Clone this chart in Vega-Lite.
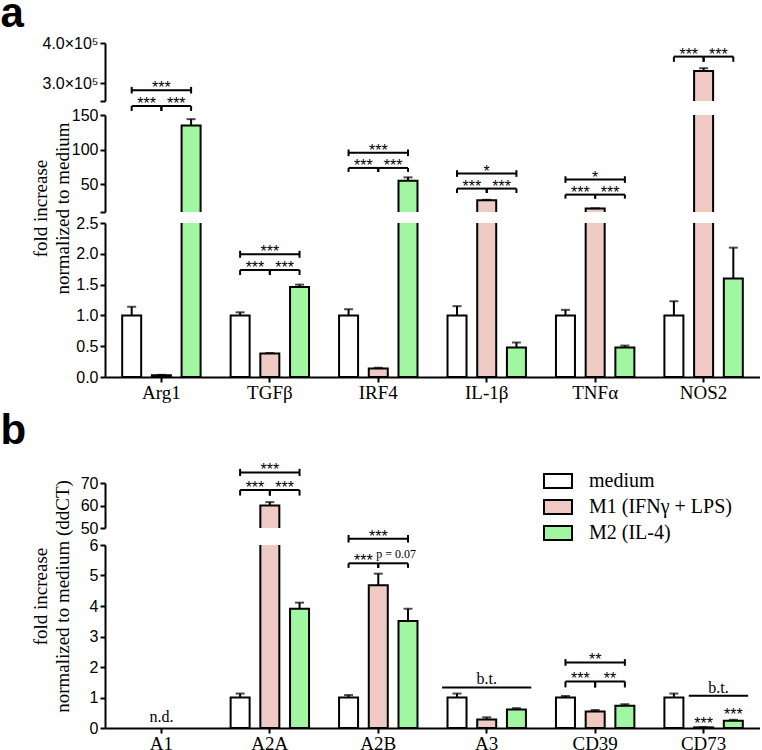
{
  "$schema": "https://vega.github.io/schema/vega-lite/v6.json",
  "padding": {"left": 0, "top": -8, "right": 0, "bottom": 0},
  "background": "white",
  "config": {
    "view": {"stroke": null},
    "axis": {"domainColor": "black", "domainWidth": 2, "tickColor": "black", "tickWidth": 2, "tickSize": 5, "labelColor": "black", "grid": false, "labelFont": "Liberation Sans", "labelFontSize": 16, "labelOverlap": false, "labelFlush": false, "titleFont": "Liberation Serif", "titleFontWeight": "normal", "titleColor": "black", "titleFontSize": 19, "labelPadding": 2},
    "axisY": {"tickCount": 30},
    "legend": {"orient": "none", "legendX": 443, "legendY": 428, "title": null, "symbolType": "M-2,-1H2V1H-2Z", "symbolSize": 196, "symbolStrokeColor": "black", "symbolStrokeWidth": 2, "labelFont": "Liberation Serif", "labelFontSize": 20, "labelColor": "black", "labelOffset": 21, "rowPadding": 4, "padding": 0, "labelLimit": 400}
  },
  "datasets": {
    "barsA": [
      {"g": "Arg1", "s": "medium", "mean": 1.0, "hi": 1.14},
      {"g": "Arg1", "s": "M1", "mean": 0.03, "hi": 0.035},
      {"g": "Arg1", "s": "M2", "mean": 135, "hi": 144},
      {"g": "TGFβ", "s": "medium", "mean": 1.0, "hi": 1.05},
      {"g": "TGFβ", "s": "M1", "mean": 0.38, "hi": 0.39},
      {"g": "TGFβ", "s": "M2", "mean": 1.46, "hi": 1.5},
      {"g": "IRF4", "s": "medium", "mean": 1.0, "hi": 1.1},
      {"g": "IRF4", "s": "M1", "mean": 0.14, "hi": 0.15},
      {"g": "IRF4", "s": "M2", "mean": 55, "hi": 60},
      {"g": "IL-1β", "s": "medium", "mean": 1.0, "hi": 1.15},
      {"g": "IL-1β", "s": "M1", "mean": 27, "hi": 27.6},
      {"g": "IL-1β", "s": "M2", "mean": 0.48, "hi": 0.56},
      {"g": "TNFα", "s": "medium", "mean": 1.0, "hi": 1.09},
      {"g": "TNFα", "s": "M1", "mean": 15, "hi": 15.3},
      {"g": "TNFα", "s": "M2", "mean": 0.48, "hi": 0.51},
      {"g": "NOS2", "s": "medium", "mean": 1.0, "hi": 1.23},
      {"g": "NOS2", "s": "M1", "mean": 330000, "hi": 337000},
      {"g": "NOS2", "s": "M2", "mean": 1.6, "hi": 2.1}
    ],
    "barsB": [
      {"g": "A2A", "s": "medium", "mean": 1.0, "hi": 1.13},
      {"g": "A2A", "s": "M1", "mean": 60, "hi": 61.5},
      {"g": "A2A", "s": "M2", "mean": 3.91, "hi": 4.11},
      {"g": "A2B", "s": "medium", "mean": 1.0, "hi": 1.08},
      {"g": "A2B", "s": "M1", "mean": 4.68, "hi": 5.06},
      {"g": "A2B", "s": "M2", "mean": 3.51, "hi": 3.91},
      {"g": "A3", "s": "medium", "mean": 1.0, "hi": 1.13},
      {"g": "A3", "s": "M1", "mean": 0.28, "hi": 0.35},
      {"g": "A3", "s": "M2", "mean": 0.61, "hi": 0.65},
      {"g": "CD39", "s": "medium", "mean": 1.0, "hi": 1.05},
      {"g": "CD39", "s": "M1", "mean": 0.54, "hi": 0.59},
      {"g": "CD39", "s": "M2", "mean": 0.73, "hi": 0.78},
      {"g": "CD73", "s": "medium", "mean": 1.0, "hi": 1.13},
      {"g": "CD73", "s": "M1", "mean": 0.02, "hi": 0.025},
      {"g": "CD73", "s": "M2", "mean": 0.24, "hi": 0.27}
    ],
    "ann": [
      {"seg": "midA", "id": "ar1", "g": "Arg1", "from": "medium", "to": "M1", "mid": "a", "y": 163, "ylo": 155.8, "yhi": 163, "lab": "***", "k": "star"},
      {"seg": "midA", "id": "ar2", "g": "Arg1", "from": "M1", "to": "M2", "mid": "b", "y": 163, "ylo": 155.8, "yhi": 163, "lab": "***", "k": "star"},
      {"seg": "midA", "id": "ar3", "g": "Arg1", "from": "medium", "to": "M2", "mid": "M1", "y": 185.8, "ylo": 181, "yhi": 190.6, "lab": "***", "k": "star"},
      {"seg": "botA", "id": "tg1", "g": "TGFβ", "from": "medium", "to": "M1", "mid": "a", "y": 1.737, "ylo": 1.656, "yhi": 1.737, "lab": "***", "k": "star"},
      {"seg": "botA", "id": "tg2", "g": "TGFβ", "from": "M1", "to": "M2", "mid": "b", "y": 1.737, "ylo": 1.656, "yhi": 1.737, "lab": "***", "k": "star"},
      {"seg": "botA", "id": "tg3", "g": "TGFβ", "from": "medium", "to": "M2", "mid": "M1", "y": 1.992, "ylo": 1.935, "yhi": 2.049, "lab": "***", "k": "star"},
      {"seg": "midA", "id": "ir1", "g": "IRF4", "from": "medium", "to": "M1", "mid": "a", "y": 73.6, "ylo": 67.8, "yhi": 73.6, "lab": "***", "k": "star"},
      {"seg": "midA", "id": "ir2", "g": "IRF4", "from": "M1", "to": "M2", "mid": "b", "y": 73.6, "ylo": 67.8, "yhi": 73.6, "lab": "***", "k": "star"},
      {"seg": "midA", "id": "ir3", "g": "IRF4", "from": "medium", "to": "M2", "mid": "M1", "y": 95.4, "ylo": 90.6, "yhi": 100.2, "lab": "***", "k": "star"},
      {"seg": "midA", "id": "il1", "g": "IL-1β", "from": "medium", "to": "M1", "mid": "a", "y": 43.8, "ylo": 37.4, "yhi": 43.8, "lab": "***", "k": "star"},
      {"seg": "midA", "id": "il2", "g": "IL-1β", "from": "M1", "to": "M2", "mid": "b", "y": 43.8, "ylo": 37.4, "yhi": 43.8, "lab": "***", "k": "star"},
      {"seg": "midA", "id": "il3", "g": "IL-1β", "from": "medium", "to": "M2", "mid": "M1", "y": 65.5, "ylo": 60.7, "yhi": 70.3, "lab": "*", "k": "star"},
      {"seg": "midA", "id": "tn1", "g": "TNFα", "from": "medium", "to": "M1", "mid": "a", "y": 35.1, "ylo": 29.3, "yhi": 35.1, "lab": "***", "k": "star"},
      {"seg": "midA", "id": "tn2", "g": "TNFα", "from": "M1", "to": "M2", "mid": "b", "y": 35.1, "ylo": 29.3, "yhi": 35.1, "lab": "***", "k": "star"},
      {"seg": "midA", "id": "tn3", "g": "TNFα", "from": "medium", "to": "M2", "mid": "M1", "y": 56.8, "ylo": 52, "yhi": 61.6, "lab": "*", "k": "star"},
      {"seg": "topA", "id": "no1", "g": "NOS2", "from": "medium", "to": "M1", "mid": "a", "y": 366000, "ylo": 353000, "yhi": 366000, "lab": "***", "k": "star"},
      {"seg": "topA", "id": "no2", "g": "NOS2", "from": "M1", "to": "M2", "mid": "b", "y": 366000, "ylo": 353000, "yhi": 366000, "lab": "***", "k": "star"},
      {"seg": "topB", "id": "aa1", "g": "A2A", "from": "medium", "to": "M1", "mid": "a", "y": 66.9, "ylo": 64.4, "yhi": 66.9, "lab": "***", "k": "star"},
      {"seg": "topB", "id": "aa2", "g": "A2A", "from": "M1", "to": "M2", "mid": "b", "y": 66.9, "ylo": 64.4, "yhi": 66.9, "lab": "***", "k": "star"},
      {"seg": "topB", "id": "aa3", "g": "A2A", "from": "medium", "to": "M2", "mid": "M1", "y": 74.7, "ylo": 73.1, "yhi": 76.3, "lab": "***", "k": "star"},
      {"seg": "botB", "id": "ab1", "g": "A2B", "from": "medium", "to": "M1", "mid": "a", "y": 5.4, "ylo": 5.25, "yhi": 5.4, "lab": "***", "k": "star"},
      {"seg": "botB", "id": "ab2", "g": "A2B", "from": "M1", "to": "M2", "mid": "b", "y": 5.4, "ylo": 5.25, "yhi": 5.4, "lab": "p = 0.07", "k": "p"},
      {"seg": "botB", "id": "ab3", "g": "A2B", "from": "medium", "to": "M2", "mid": "M1", "y": 6.206, "ylo": 6.08, "yhi": 6.33, "lab": "***", "k": "star"},
      {"seg": "botB", "id": "a3bt", "g": "A3", "from": "L", "to": "R", "mid": "M1", "y": 1.33, "lab": "b.t.", "k": "bt"},
      {"seg": "botB", "id": "cd1", "g": "CD39", "from": "medium", "to": "M1", "mid": "a", "y": 1.525, "ylo": 1.33, "yhi": 1.525, "lab": "***", "k": "star"},
      {"seg": "botB", "id": "cd2", "g": "CD39", "from": "M1", "to": "M2", "mid": "b", "y": 1.525, "ylo": 1.33, "yhi": 1.525, "lab": "**", "k": "star"},
      {"seg": "botB", "id": "cd3", "g": "CD39", "from": "medium", "to": "M2", "mid": "M1", "y": 2.15, "ylo": 2.04, "yhi": 2.26, "lab": "**", "k": "star"},
      {"seg": "botB", "id": "c7bt", "g": "CD73", "from": "a", "to": "R", "mid": "b", "y": 1.057, "lab": "b.t.", "k": "bt"},
      {"seg": "botB", "id": "c7s1", "g": "CD73", "mid": "M1", "y": 0.065, "lab": "***", "k": "star"},
      {"seg": "botB", "id": "c7s2", "g": "CD73", "mid": "M2", "y": 0.35, "lab": "***", "k": "star"},
      {"seg": "botB", "id": "a1nd", "g": "A1", "mid": "M1", "y": 0.085, "lab": "n.d.", "k": "bt"}
    ]
  },
  "bounds": "flush",
  "spacing": 0,
  "vconcat": [
    {
      "width": 655, "height": 58,
      "layer": [
        {"data": {"name": "barsA"}, "mark": {"type": "bar", "width": 19, "stroke": "black", "strokeWidth": 2, "clip": true},
         "encoding": {
           "x": {"field": "g", "type": "nominal", "sort": null, "scale": {"domain": ["Arg1", "TGFβ", "IRF4", "IL-1β", "TNFα", "NOS2"], "paddingInner": 0, "paddingOuter": 0.02}, "axis": null},
           "xOffset": {"field": "s", "type": "nominal", "scale": {"domain": ["L", "medium", "a", "M1", "b", "M2", "R"], "paddingInner": 0, "paddingOuter": 0.15}},
           "y": {"field": "mean", "type": "quantitative", "scale": {"domain": [255000, 400000], "zero": false, "nice": false}, "axis": {"title": "a", "titleAngle": 0, "titleAlign": "left", "titleBaseline": "alphabetic", "titleX": -105, "titleY": -17, "titleFont": "Liberation Sans", "titleFontWeight": "bold", "titleFontSize": 42, "tickCount": 30, "values": [255000, 300000, 400000], "labelExpr": "datum.value == 300000 ? '3.0×10⁵' : datum.value == 400000 ? '4.0×10⁵' : ''"}},
           "fill": {"field": "s", "type": "nominal", "scale": {"domain": ["medium", "M1", "M2"], "range": ["#ffffff", "#efcac5", "#a1f7a1"]}, "legend": {"labelExpr": "datum.label == 'M1' ? 'M1 (IFNγ + LPS)' : datum.label == 'M2' ? 'M2 (IL-4)' : datum.label"}}
         }},
        {"data": {"name": "barsA"}, "mark": {"type": "rule", "color": "black", "strokeWidth": 2, "clip": true},
         "encoding": {"x": {"field": "g", "type": "nominal", "axis": null}, "xOffset": {"field": "s", "type": "nominal"}, "y": {"field": "mean", "type": "quantitative"}, "y2": {"field": "hi"}}},
        {"data": {"name": "barsA"}, "mark": {"type": "tick", "orient": "horizontal", "color": "black", "thickness": 2, "size": 9, "clip": true},
         "encoding": {"x": {"field": "g", "type": "nominal", "axis": null}, "xOffset": {"field": "s", "type": "nominal"}, "y": {"field": "hi", "type": "quantitative"}}},
        {"data": {"name": "ann"}, "transform": [{"filter": "datum.seg == 'topA' && isValid(datum.from)"}, {"fold": ["from", "to"], "as": ["end", "s"]}],
         "mark": {"type": "line", "color": "black", "strokeWidth": 2, "clip": false},
         "encoding": {"x": {"field": "g", "type": "nominal", "axis": null}, "xOffset": {"field": "s", "type": "nominal"}, "y": {"field": "y", "type": "quantitative"}, "detail": {"field": "id"}}},
        {"data": {"name": "ann"}, "transform": [{"filter": "datum.seg == 'topA' && isValid(datum.ylo)"}, {"fold": ["from", "to"], "as": ["end", "s"]}],
         "mark": {"type": "rule", "color": "black", "strokeWidth": 2, "clip": false},
         "encoding": {"x": {"field": "g", "type": "nominal", "axis": null}, "xOffset": {"field": "s", "type": "nominal"}, "y": {"field": "ylo", "type": "quantitative"}, "y2": {"field": "yhi"}}},
        {"data": {"name": "ann"}, "transform": [{"filter": "datum.seg == 'topA' && datum.k == 'star'"}],
         "mark": {"type": "text", "color": "black", "font": "Liberation Sans", "fontSize": 16, "baseline": "middle", "dy": -2, "clip": false},
         "encoding": {"x": {"field": "g", "type": "nominal", "axis": null}, "xOffset": {"field": "mid", "type": "nominal"}, "y": {"field": "y", "type": "quantitative"}, "text": {"field": "lab"}}}
      ]
    },
    {"width": 655, "height": 14, "data": {"values": [{}]}, "mark": {"type": "rule", "opacity": 0}, "encoding": {}},
    {
      "width": 655, "height": 97,
      "layer": [
        {"data": {"name": "barsA"}, "mark": {"type": "bar", "width": 19, "stroke": "black", "strokeWidth": 2, "clip": true},
         "encoding": {
           "x": {"field": "g", "type": "nominal", "sort": null, "scale": {"domain": ["Arg1", "TGFβ", "IRF4", "IL-1β", "TNFα", "NOS2"], "paddingInner": 0, "paddingOuter": 0.02}, "axis": null},
           "xOffset": {"field": "s", "type": "nominal", "scale": {"domain": ["L", "medium", "a", "M1", "b", "M2", "R"], "paddingInner": 0, "paddingOuter": 0.15}},
           "y": {"field": "mean", "type": "quantitative", "scale": {"domain": [10, 150], "zero": false, "nice": false}, "axis": {"title": null, "tickCount": 30, "format": "d", "values": [10, 50, 100, 150], "labelExpr": "datum.value == 10 ? '' : datum.label"}},
           "fill": {"field": "s", "type": "nominal", "scale": {"domain": ["medium", "M1", "M2"], "range": ["#ffffff", "#efcac5", "#a1f7a1"]}, "legend": {"labelExpr": "datum.label == 'M1' ? 'M1 (IFNγ + LPS)' : datum.label == 'M2' ? 'M2 (IL-4)' : datum.label"}}
         }},
        {"data": {"name": "barsA"}, "mark": {"type": "rule", "color": "black", "strokeWidth": 2, "clip": true},
         "encoding": {"x": {"field": "g", "type": "nominal", "axis": null}, "xOffset": {"field": "s", "type": "nominal"}, "y": {"field": "mean", "type": "quantitative"}, "y2": {"field": "hi"}}},
        {"data": {"name": "barsA"}, "mark": {"type": "tick", "orient": "horizontal", "color": "black", "thickness": 2, "size": 9, "clip": true},
         "encoding": {"x": {"field": "g", "type": "nominal", "axis": null}, "xOffset": {"field": "s", "type": "nominal"}, "y": {"field": "hi", "type": "quantitative"}}},
        {"data": {"name": "ann"}, "transform": [{"filter": "datum.seg == 'midA' && isValid(datum.from)"}, {"fold": ["from", "to"], "as": ["end", "s"]}],
         "mark": {"type": "line", "color": "black", "strokeWidth": 2, "clip": false},
         "encoding": {"x": {"field": "g", "type": "nominal", "axis": null}, "xOffset": {"field": "s", "type": "nominal"}, "y": {"field": "y", "type": "quantitative"}, "detail": {"field": "id"}}},
        {"data": {"name": "ann"}, "transform": [{"filter": "datum.seg == 'midA' && isValid(datum.ylo)"}, {"fold": ["from", "to"], "as": ["end", "s"]}],
         "mark": {"type": "rule", "color": "black", "strokeWidth": 2, "clip": false},
         "encoding": {"x": {"field": "g", "type": "nominal", "axis": null}, "xOffset": {"field": "s", "type": "nominal"}, "y": {"field": "ylo", "type": "quantitative"}, "y2": {"field": "yhi"}}},
        {"data": {"name": "ann"}, "transform": [{"filter": "datum.seg == 'midA' && datum.k == 'star'"}],
         "mark": {"type": "text", "color": "black", "font": "Liberation Sans", "fontSize": 16, "baseline": "middle", "dy": -2, "clip": false},
         "encoding": {"x": {"field": "g", "type": "nominal", "axis": null}, "xOffset": {"field": "mid", "type": "nominal"}, "y": {"field": "y", "type": "quantitative"}, "text": {"field": "lab"}}}
      ]
    },
    {"width": 655, "height": 11, "data": {"values": [{}]}, "mark": {"type": "rule", "opacity": 0}, "encoding": {}},
    {
      "width": 655, "height": 154,
      "layer": [
        {"data": {"name": "barsA"}, "mark": {"type": "bar", "width": 19, "stroke": "black", "strokeWidth": 2, "clip": true},
         "encoding": {
           "x": {"field": "g", "type": "nominal", "sort": null, "scale": {"domain": ["Arg1", "TGFβ", "IRF4", "IL-1β", "TNFα", "NOS2"], "paddingInner": 0, "paddingOuter": 0.02}, "axis": {"title": null, "labelFont": "Liberation Serif", "labelFontSize": 19, "labelPadding": 1, "labelAngle": 0}},
           "xOffset": {"field": "s", "type": "nominal", "scale": {"domain": ["L", "medium", "a", "M1", "b", "M2", "R"], "paddingInner": 0, "paddingOuter": 0.15}},
           "y": {"field": "mean", "type": "quantitative", "scale": {"domain": [0, 2.5], "zero": false, "nice": false}, "axis": {"title": ["fold increase", "normalized to medium"], "titleY": -15, "titleX": -55, "titleLineHeight": 22, "tickCount": 30, "values": [0, 0.5, 1, 1.5, 2, 2.5], "format": ".1f"}},
           "fill": {"field": "s", "type": "nominal", "scale": {"domain": ["medium", "M1", "M2"], "range": ["#ffffff", "#efcac5", "#a1f7a1"]}, "legend": {"labelExpr": "datum.label == 'M1' ? 'M1 (IFNγ + LPS)' : datum.label == 'M2' ? 'M2 (IL-4)' : datum.label"}}
         }},
        {"data": {"name": "barsA"}, "mark": {"type": "rule", "color": "black", "strokeWidth": 2, "clip": true},
         "encoding": {"x": {"field": "g", "type": "nominal"}, "xOffset": {"field": "s", "type": "nominal"}, "y": {"field": "mean", "type": "quantitative"}, "y2": {"field": "hi"}}},
        {"data": {"name": "barsA"}, "mark": {"type": "tick", "orient": "horizontal", "color": "black", "thickness": 2, "size": 9, "clip": true},
         "encoding": {"x": {"field": "g", "type": "nominal"}, "xOffset": {"field": "s", "type": "nominal"}, "y": {"field": "hi", "type": "quantitative"}}},
        {"data": {"name": "ann"}, "transform": [{"filter": "datum.seg == 'botA' && isValid(datum.from)"}, {"fold": ["from", "to"], "as": ["end", "s"]}],
         "mark": {"type": "line", "color": "black", "strokeWidth": 2, "clip": false},
         "encoding": {"x": {"field": "g", "type": "nominal"}, "xOffset": {"field": "s", "type": "nominal"}, "y": {"field": "y", "type": "quantitative"}, "detail": {"field": "id"}}},
        {"data": {"name": "ann"}, "transform": [{"filter": "datum.seg == 'botA' && isValid(datum.ylo)"}, {"fold": ["from", "to"], "as": ["end", "s"]}],
         "mark": {"type": "rule", "color": "black", "strokeWidth": 2, "clip": false},
         "encoding": {"x": {"field": "g", "type": "nominal"}, "xOffset": {"field": "s", "type": "nominal"}, "y": {"field": "ylo", "type": "quantitative"}, "y2": {"field": "yhi"}}},
        {"data": {"name": "ann"}, "transform": [{"filter": "datum.seg == 'botA' && datum.k == 'star'"}],
         "mark": {"type": "text", "color": "black", "font": "Liberation Sans", "fontSize": 16, "baseline": "middle", "dy": -2, "clip": false},
         "encoding": {"x": {"field": "g", "type": "nominal"}, "xOffset": {"field": "mid", "type": "nominal"}, "y": {"field": "y", "type": "quantitative"}, "text": {"field": "lab"}}}
      ]
    },
    {"width": 655, "height": 106, "data": {"values": [{}]}, "mark": {"type": "rule", "opacity": 0}, "encoding": {}},
    {
      "width": 655, "height": 45,
      "layer": [
        {"data": {"name": "barsB"}, "mark": {"type": "bar", "width": 19, "stroke": "black", "strokeWidth": 2, "clip": true},
         "encoding": {
           "x": {"field": "g", "type": "nominal", "sort": null, "scale": {"domain": ["A1", "A2A", "A2B", "A3", "CD39", "CD73"], "paddingInner": 0, "paddingOuter": 0.02}, "axis": null},
           "xOffset": {"field": "s", "type": "nominal", "scale": {"domain": ["L", "medium", "a", "M1", "b", "M2", "R"], "paddingInner": 0, "paddingOuter": 0.15}},
           "y": {"field": "mean", "type": "quantitative", "scale": {"domain": [50, 70], "zero": false, "nice": false}, "axis": {"title": "b", "titleAngle": 0, "titleAlign": "left", "titleBaseline": "alphabetic", "titleX": -105, "titleY": -40, "titleFont": "Liberation Sans", "titleFontWeight": "bold", "titleFontSize": 42, "tickCount": 30, "format": "d", "values": [50, 60, 70]}},
           "fill": {"field": "s", "type": "nominal", "scale": {"domain": ["medium", "M1", "M2"], "range": ["#ffffff", "#efcac5", "#a1f7a1"]}, "legend": {"labelExpr": "datum.label == 'M1' ? 'M1 (IFNγ + LPS)' : datum.label == 'M2' ? 'M2 (IL-4)' : datum.label"}}
         }},
        {"data": {"name": "barsB"}, "mark": {"type": "rule", "color": "black", "strokeWidth": 2, "clip": true},
         "encoding": {"x": {"field": "g", "type": "nominal", "axis": null}, "xOffset": {"field": "s", "type": "nominal"}, "y": {"field": "mean", "type": "quantitative"}, "y2": {"field": "hi"}}},
        {"data": {"name": "barsB"}, "mark": {"type": "tick", "orient": "horizontal", "color": "black", "thickness": 2, "size": 9, "clip": true},
         "encoding": {"x": {"field": "g", "type": "nominal", "axis": null}, "xOffset": {"field": "s", "type": "nominal"}, "y": {"field": "hi", "type": "quantitative"}}},
        {"data": {"name": "ann"}, "transform": [{"filter": "datum.seg == 'topB' && isValid(datum.from)"}, {"fold": ["from", "to"], "as": ["end", "s"]}],
         "mark": {"type": "line", "color": "black", "strokeWidth": 2, "clip": false},
         "encoding": {"x": {"field": "g", "type": "nominal", "axis": null}, "xOffset": {"field": "s", "type": "nominal"}, "y": {"field": "y", "type": "quantitative"}, "detail": {"field": "id"}}},
        {"data": {"name": "ann"}, "transform": [{"filter": "datum.seg == 'topB' && isValid(datum.ylo)"}, {"fold": ["from", "to"], "as": ["end", "s"]}],
         "mark": {"type": "rule", "color": "black", "strokeWidth": 2, "clip": false},
         "encoding": {"x": {"field": "g", "type": "nominal", "axis": null}, "xOffset": {"field": "s", "type": "nominal"}, "y": {"field": "ylo", "type": "quantitative"}, "y2": {"field": "yhi"}}},
        {"data": {"name": "ann"}, "transform": [{"filter": "datum.seg == 'topB' && datum.k == 'star'"}],
         "mark": {"type": "text", "color": "black", "font": "Liberation Sans", "fontSize": 16, "baseline": "middle", "dy": -2, "clip": false},
         "encoding": {"x": {"field": "g", "type": "nominal", "axis": null}, "xOffset": {"field": "mid", "type": "nominal"}, "y": {"field": "y", "type": "quantitative"}, "text": {"field": "lab"}}}
      ]
    },
    {"width": 655, "height": 17, "data": {"values": [{}]}, "mark": {"type": "rule", "opacity": 0}, "encoding": {}},
    {
      "width": 655, "height": 183,
      "layer": [
        {"data": {"name": "barsB"}, "mark": {"type": "bar", "width": 19, "stroke": "black", "strokeWidth": 2, "clip": true},
         "encoding": {
           "x": {"field": "g", "type": "nominal", "sort": null, "scale": {"domain": ["A1", "A2A", "A2B", "A3", "CD39", "CD73"], "paddingInner": 0, "paddingOuter": 0.02}, "axis": {"title": null, "labelFont": "Liberation Serif", "labelFontSize": 19, "labelPadding": 1, "labelAngle": 0}},
           "xOffset": {"field": "s", "type": "nominal", "scale": {"domain": ["L", "medium", "a", "M1", "b", "M2", "R"], "paddingInner": 0, "paddingOuter": 0.15}},
           "y": {"field": "mean", "type": "quantitative", "scale": {"domain": [0, 6], "zero": false, "nice": false}, "axis": {"title": ["fold increase", "normalized to medium (ddCT)"], "titleY": 51, "titleX": -55, "titleLineHeight": 22, "tickCount": 30, "format": "d", "values": [0, 1, 2, 3, 4, 5, 6]}},
           "fill": {"field": "s", "type": "nominal", "scale": {"domain": ["medium", "M1", "M2"], "range": ["#ffffff", "#efcac5", "#a1f7a1"]}, "legend": {"labelExpr": "datum.label == 'M1' ? 'M1 (IFNγ + LPS)' : datum.label == 'M2' ? 'M2 (IL-4)' : datum.label"}}
         }},
        {"data": {"name": "barsB"}, "mark": {"type": "rule", "color": "black", "strokeWidth": 2, "clip": true},
         "encoding": {"x": {"field": "g", "type": "nominal"}, "xOffset": {"field": "s", "type": "nominal"}, "y": {"field": "mean", "type": "quantitative"}, "y2": {"field": "hi"}}},
        {"data": {"name": "barsB"}, "mark": {"type": "tick", "orient": "horizontal", "color": "black", "thickness": 2, "size": 9, "clip": true},
         "encoding": {"x": {"field": "g", "type": "nominal"}, "xOffset": {"field": "s", "type": "nominal"}, "y": {"field": "hi", "type": "quantitative"}}},
        {"data": {"name": "ann"}, "transform": [{"filter": "datum.seg == 'botB' && isValid(datum.from)"}, {"fold": ["from", "to"], "as": ["end", "s"]}],
         "mark": {"type": "line", "color": "black", "strokeWidth": 2, "clip": false},
         "encoding": {"x": {"field": "g", "type": "nominal"}, "xOffset": {"field": "s", "type": "nominal"}, "y": {"field": "y", "type": "quantitative"}, "detail": {"field": "id"}}},
        {"data": {"name": "ann"}, "transform": [{"filter": "datum.seg == 'botB' && isValid(datum.ylo)"}, {"fold": ["from", "to"], "as": ["end", "s"]}],
         "mark": {"type": "rule", "color": "black", "strokeWidth": 2, "clip": false},
         "encoding": {"x": {"field": "g", "type": "nominal"}, "xOffset": {"field": "s", "type": "nominal"}, "y": {"field": "ylo", "type": "quantitative"}, "y2": {"field": "yhi"}}},
        {"data": {"name": "ann"}, "transform": [{"filter": "datum.seg == 'botB' && datum.k == 'star'"}],
         "mark": {"type": "text", "color": "black", "font": "Liberation Sans", "fontSize": 16, "baseline": "middle", "dy": -2, "clip": false},
         "encoding": {"x": {"field": "g", "type": "nominal"}, "xOffset": {"field": "mid", "type": "nominal"}, "y": {"field": "y", "type": "quantitative"}, "text": {"field": "lab"}}},
        {"data": {"name": "ann"}, "transform": [{"filter": "datum.seg == 'botB' && datum.k == 'bt'"}],
         "mark": {"type": "text", "color": "black", "font": "Liberation Serif", "fontSize": 16, "baseline": "alphabetic", "dy": -3, "clip": false},
         "encoding": {"x": {"field": "g", "type": "nominal"}, "xOffset": {"field": "mid", "type": "nominal"}, "y": {"field": "y", "type": "quantitative"}, "text": {"field": "lab"}}},
        {"data": {"name": "ann"}, "transform": [{"filter": "datum.seg == 'botB' && datum.k == 'p'"}],
         "mark": {"type": "text", "color": "black", "font": "Liberation Serif", "fontSize": 12, "baseline": "alphabetic", "dy": -5, "dx": 3, "clip": false},
         "encoding": {"x": {"field": "g", "type": "nominal"}, "xOffset": {"field": "mid", "type": "nominal"}, "y": {"field": "y", "type": "quantitative"}, "text": {"field": "lab"}}}
      ]
    }
  ]
}
